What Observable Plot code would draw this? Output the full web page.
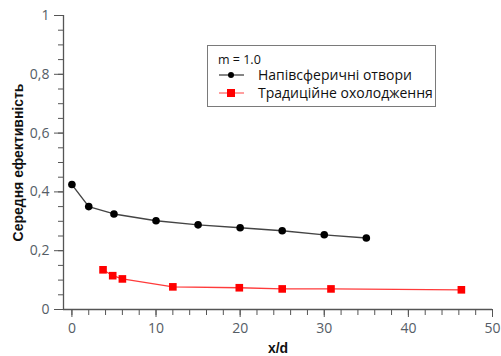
<!DOCTYPE html>
<html>
<head>
<meta charset="utf-8">
<script src="https://cdn.jsdelivr.net/npm/d3@7"></script>
<script src="https://cdn.jsdelivr.net/npm/@observablehq/plot@0.6"></script>
<style>
  html, body { margin: 0; padding: 0; background: #fff; }
  #wrap { position: relative; width: 501px; height: 356px; overflow: hidden; }
  #legend { position: absolute; left: 207px; top: 45px; width: 229px; height: 62px;
    border: 1px solid #7a7a7a; box-sizing: border-box; background: #fff;
    font-family: "Open Sans", "Noto Sans", sans-serif; color: #111; }
  #legend .t { position: absolute; left: 10px; top: 7px; font-size: 12.5px; line-height: 14px; }
  #legend .row { position: absolute; left: 10px; font-size: 14px; line-height: 16px; white-space: nowrap; }
  #legend .row svg { position: absolute; left: 0; top: 0; }
  #legend .row span { position: absolute; left: 40px; top: 0; }
</style>
</head>
<body>
<div id="wrap"></div>
<script>
// Data
const hemiX = [0, 2, 5, 10, 15, 20, 25, 30, 35];
const hemiY = [0.425, 0.350, 0.325, 0.302, 0.288, 0.278, 0.268, 0.254, 0.243];
const tradX = [3.7, 4.85, 6.0, 12.0, 19.9, 25.0, 30.8, 46.3];
const tradY = [0.135, 0.115, 0.104, 0.077, 0.074, 0.070, 0.070, 0.067];
const seriesNames = ["Напівсферичні отвори", "Традиційне охолодження"];
const legendTitle = "m = 1.0";
const xMajor = [0, 10, 20, 30, 40, 50];
const xMinor = d3.range(0, 51, 2);
const yMajor = [0, 0.2, 0.4, 0.6, 0.8, 1];
const yMinor = d3.range(0, 1.0001, 0.05);
const xLabel = "x/d";
const yLabel = "Середня ефективність";

const hemi = hemiX.map((x, i) => ({x, y: hemiY[i]}));
const trad = tradX.map((x, i) => ({x, y: tradY[i]}));

const fmtY = d => (Math.round(d * 10) / 10).toString().replace(".", ",");
const tickColor = "#555d66";
const axisColor = "#555";

const chart = Plot.plot({
  width: 501,
  height: 356,
  marginLeft: 63,
  marginRight: 9,
  marginTop: 15,
  marginBottom: 47,
  style: {fontFamily: "'Open Sans', sans-serif", background: "#fff", overflow: "visible"},
  x: {domain: [-1, 50]},
  y: {domain: [0, 1]},
  marks: [
    Plot.ruleX([-1], {stroke: axisColor, strokeWidth: 1.3}),
    Plot.ruleY([0], {stroke: axisColor, strokeWidth: 1.3}),
    Plot.axisX({ticks: xMinor, tickSize: 6, text: null, stroke: axisColor, label: null}),
    Plot.axisX({ticks: xMajor, tickSize: 8, tickPadding: 6, stroke: axisColor, fill: tickColor, fontSize: 14, label: null, tickFormat: d => String(d)}),
    Plot.axisY({ticks: yMinor, tickSize: 5, text: null, stroke: axisColor, label: null}),
    Plot.axisY({ticks: yMajor, tickSize: 9, tickPadding: 5, stroke: axisColor, fill: tickColor, fontSize: 14, label: null, tickFormat: fmtY}),
    Plot.text([xLabel], {frameAnchor: "bottom", dy: 43, fontWeight: "bold", fontSize: 14, fill: "#111", fontFamily: "'Liberation Sans', Arial, sans-serif"}),
    Plot.text([yLabel], {frameAnchor: "left", textAnchor: "middle", dx: -45, rotate: -90, fontWeight: "bold", fontSize: 14, fill: "#111", fontFamily: "'Liberation Sans', Arial, sans-serif"}),
    Plot.line(hemi, {x: "x", y: "y", stroke: "#444", strokeWidth: 1.4}),
    Plot.dot(hemi, {x: "x", y: "y", r: 3.8, fill: "#000", stroke: "none"}),
    Plot.line(trad, {x: "x", y: "y", stroke: "#ff3b3b", strokeWidth: 1.3}),
    Plot.dot(trad, {x: "x", y: "y", symbol: "square", r: 4.3, fill: "#ff0000", stroke: "none"})
  ]
});

const wrap = document.getElementById("wrap");
wrap.appendChild(chart);

const legend = document.createElement("div");
legend.id = "legend";
const t = document.createElement("div");
t.className = "t";
t.textContent = legendTitle;
legend.appendChild(t);
const styles = [
  {stroke: "#444", fill: "#000", shape: "circle"},
  {stroke: "#ff6b6b", fill: "#ff0000", shape: "square"}
];
seriesNames.forEach((name, i) => {
  const row = document.createElement("div");
  row.className = "row";
  row.style.top = (21 + i * 18) + "px";
  const s = styles[i];
  const marker = s.shape === "circle"
    ? `<circle cx="13" cy="8" r="3" fill="${s.fill}"/>`
    : `<rect x="9" y="4" width="8" height="8" fill="${s.fill}"/>`;
  row.innerHTML = `<svg width="30" height="16"><line x1="1" x2="26" y1="8" y2="8" stroke="${s.stroke}" stroke-width="1.3"/>${marker}</svg><span></span>`;
  row.querySelector("span").textContent = name;
  legend.appendChild(row);
});
wrap.appendChild(legend);
</script>
</body>
</html>
